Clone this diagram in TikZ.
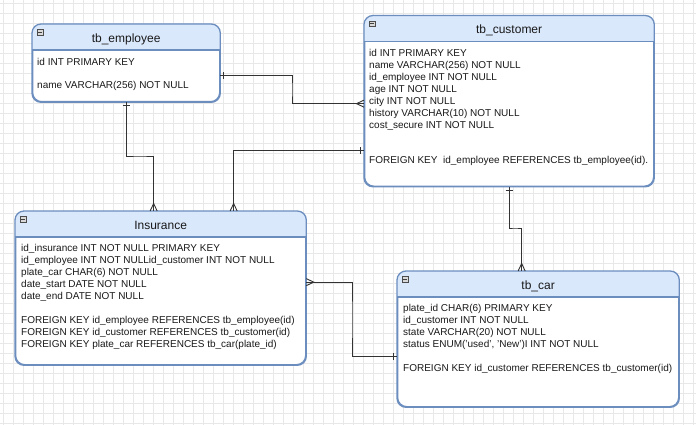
\documentclass[tikz,border=0pt]{standalone}
\usepackage{fontspec}
\setmainfont{Liberation Sans}
\definecolor{boxc}{HTML}{6C8EBF}
\definecolor{hdrc}{HTML}{DAE8FC}
\definecolor{connc}{HTML}{333333}
\definecolor{gridc}{HTML}{E8E8E8}
\tikzset{
  entity/.style={draw=boxc, line width=1.3pt, fill=white, rounded corners=9pt,
    rectangle, inner sep=0pt, anchor=north west},
  outline/.style={draw=boxc, line width=1.3pt, rounded corners=9pt},
  sepline/.style={draw=boxc, line width=1.1pt},
  hdr/.style={fill=hdrc},
  attr/.style={font=\fontsize{10}{12}\selectfont, inner sep=0pt, anchor=base west, text=black!90},
  ttl/.style={font=\fontsize{12}{14}\selectfont, inner sep=0pt, anchor=base, text=black!90},
  conn/.style={draw=connc, line width=0.9pt},
  gridline/.style={draw=gridc, line width=0.6pt},
  iconbox/.style={fill=gray!30, draw=gray!60!black, line width=0.5pt},
  one/.pic={\draw[conn] (3.5,-3.5) -- (3.5,3.5);},
  many/.pic={\draw[conn] (0,-3.5) -- (7.5,0) -- (0,3.5);},
}
\begin{document}
\begin{tikzpicture}[x=1pt,y=1pt]
\useasboundingbox (0,0) rectangle (696,-425);
\fill[white] (0,0) rectangle (696,-425);
\foreach \gx in {3,13,...,693} \draw[gridline] (\gx,0) -- (\gx,-425);
\foreach \gy in {3,13,...,423} \draw[gridline] (0,-\gy) -- (696,-\gy);

% entities
\node[entity, minimum width=187pt, minimum height=77pt] (emp) at (32,-24) {};
\node[entity, minimum width=289pt, minimum height=170pt] (cust) at (364,-15.5) {};
\node[entity, minimum width=290pt, minimum height=153pt] (ins) at (15,-211) {};
\node[entity, minimum width=281pt, minimum height=135pt] (car) at (397,-271) {};

\foreach \e in {emp,cust,ins,car}{
  \begin{scope}
    \clip (\e.north west) rectangle ([yshift=-26pt]\e.north east);
    \fill[hdr, rounded corners=9pt] (\e.south west) rectangle (\e.north east);
  \end{scope}
  \draw[sepline] ([yshift=-26pt]\e.north west) -- ([yshift=-26pt]\e.north east);
  \draw[outline] (\e.south west) rectangle (\e.north east);
  \draw[iconbox] ([shift={(5,-5.5)}]\e.north west) rectangle ++(6.5,-5.5);
  \draw[line width=0.8pt, black!75] ([shift={(6.3,-8.25)}]\e.north west) -- ++(3.9,0);
}

% titles
\node[ttl] (emp-t) at ([yshift=-18.3pt]emp.north) {tb\_employee};
\node[ttl] (cust-t) at ([yshift=-18.5pt]cust.north) {tb\_customer};
\node[ttl] (ins-t) at ([yshift=-18.3pt]ins.north) {Insurance};
\node[ttl] (car-t) at ([yshift=-18.3pt]car.north) {tb\_car};

% tb_employee attributes
\node[attr] (emp-1) at (37,-65.6) {id INT PRIMARY KEY};
\node[attr] (emp-2) at (37,-88.2) {name VARCHAR(256) NOT NULL};

% tb_customer attributes
\node[attr] (cust-1) at (369,-56.3) {id INT PRIMARY KEY};
\node[attr] (cust-2) at (369,-68.3) {name VARCHAR(256) NOT NULL};
\node[attr] (cust-3) at (369,-80.3) {id\_employee INT NOT NULL};
\node[attr] (cust-4) at (369,-92.3) {age INT NOT NULL};
\node[attr] (cust-5) at (369,-104.3) {city INT NOT NULL};
\node[attr] (cust-6) at (369,-116.3) {history VARCHAR(10) NOT NULL};
\node[attr] (cust-7) at (369,-128.3) {cost\_secure INT NOT NULL};
\node[attr] (cust-8) at (369,-164) {FOREIGN KEY~~id\_employee REFERENCES tb\_employee(id).};

% Insurance attributes
\node[attr] (ins-1) at (21,-251.5) {id\_insurance INT NOT NULL PRIMARY KEY};
\node[attr] (ins-2) at (21,-263.5) {id\_employee INT NOT NULLid\_customer INT NOT NULL};
\node[attr] (ins-3) at (21,-275.5) {plate\_car CHAR(6) NOT NULL};
\node[attr] (ins-4) at (21,-287.5) {date\_start DATE NOT NULL};
\node[attr] (ins-5) at (21,-299.5) {date\_end DATE NOT NULL};
\node[attr] (ins-6) at (21,-323.5) {FOREIGN KEY id\_employee REFERENCES tb\_employee(id)};
\node[attr] (ins-7) at (21,-335.5) {FOREIGN KEY id\_customer REFERENCES tb\_customer(id)};
\node[attr] (ins-8) at (21,-347.5) {FOREIGN KEY plate\_car REFERENCES tb\_car(plate\_id)};

% tb_car attributes
\node[attr] (car-1) at (403,-311.5) {plate\_id CHAR(6) PRIMARY KEY};
\node[attr] (car-2) at (403,-323.5) {id\_customer INT NOT NULL};
\node[attr] (car-3) at (403,-335.5) {state VARCHAR(20) NOT NULL};
\node[attr] (car-4) at (403,-347.5) {status ENUM('used', 'New')I INT NOT NULL};
\node[attr] (car-5) at (403,-371.5) {FOREIGN KEY id\_customer REFERENCES tb\_customer(id)};

% connector end points
\coordinate (c1s) at ([yshift=-12.5pt]emp.east);
\coordinate (c1e) at ([yshift=-2.5pt]cust.west);
\coordinate (c1b) at (292,-90);
\coordinate (c2s) at (emp.south);
\coordinate (c2e) at ([xshift=-7pt]ins.north);
\coordinate (c2b) at (140,-156);
\coordinate (c3s) at ([yshift=-49.5pt]cust.west);
\coordinate (c3e) at ([xshift=73pt]ins.north);
\coordinate (c4s) at (cust.south);
\coordinate (c4e) at ([xshift=-16.5pt]car.north);
\coordinate (c4b) at (515,-228);
\coordinate (c5s) at ([yshift=6pt]ins.east);
\coordinate (c5e) at ([yshift=-17.5pt]car.west);
\coordinate (c5b) at (352,-320);

% connectors
\draw[conn] (c1s) -| (c1b) |- (c1e);
\draw[conn] (c2s) |- (c2b) -| (c2e);
\draw[conn] (c3s) -| (c3e);
\draw[conn] (c4s) |- (c4b) -| (c4e);
\draw[conn] (c5s) -| (c5b) |- (c5e);

% cardinality marks
\pic[rotate=0] at (c1s) {one};
\pic[rotate=180] at (c1e) {many};
\pic[rotate=-90] at (c2s) {one};
\pic[rotate=90] at (c2e) {many};
\pic[rotate=180] at (c3s) {one};
\pic[rotate=90] at (c3e) {many};
\pic[rotate=-90] at (c4s) {one};
\pic[rotate=90] at (c4e) {many};
\pic[rotate=0] at (c5s) {many};
\pic[rotate=180] at (c5e) {one};
\end{tikzpicture}
\end{document}
